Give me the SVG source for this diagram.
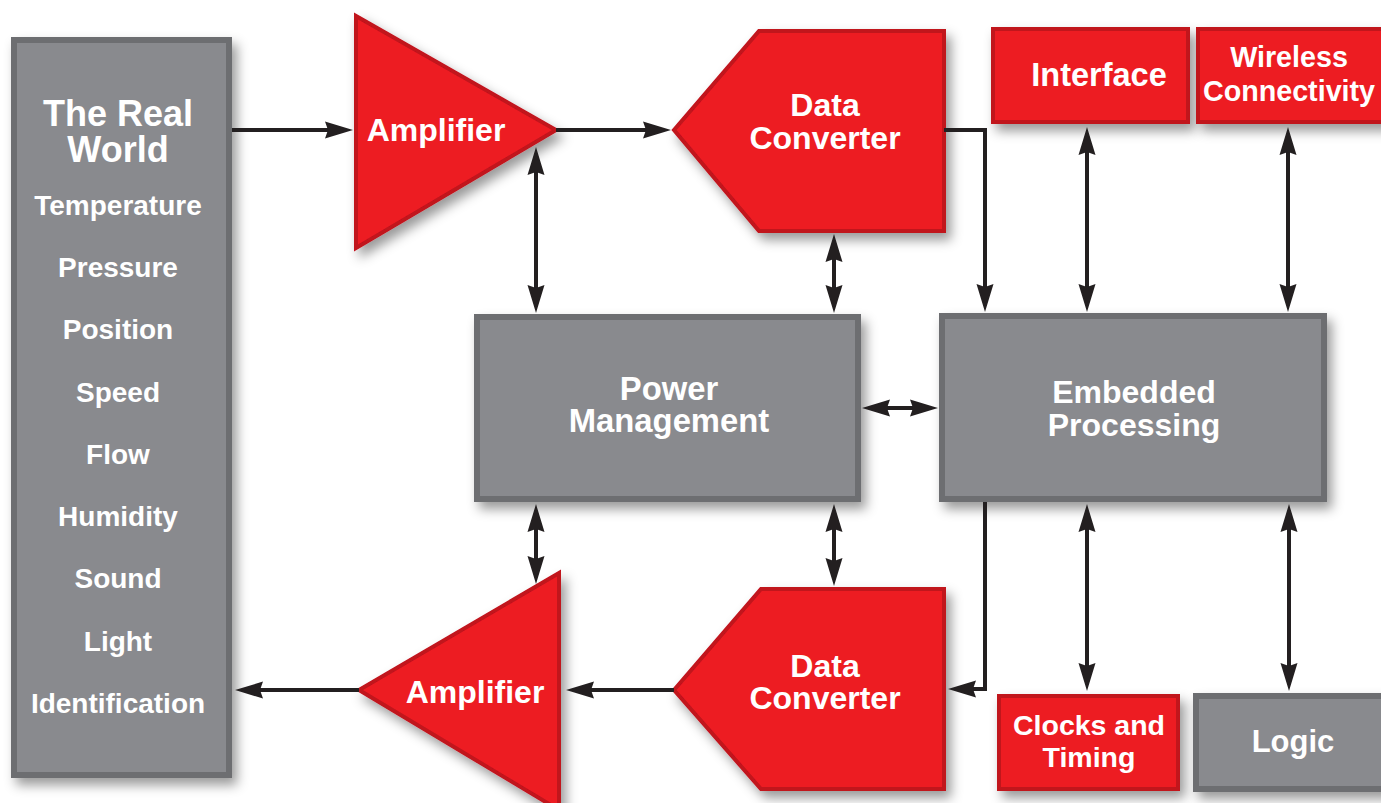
<svg xmlns="http://www.w3.org/2000/svg" width="1381" height="803" viewBox="0 0 1381 803">
<defs>
<filter id="sh" x="-20%" y="-20%" width="150%" height="150%">
<feDropShadow dx="5" dy="7" stdDeviation="6" flood-color="#000" flood-opacity="0.4"/>
</filter>
<marker id="ah" viewBox="0 -9 28 18" markerWidth="28" markerHeight="18" refX="3" refY="0" markerUnits="userSpaceOnUse" orient="auto-start-reverse">
<path d="M28,0 L0,-8.5 L3,0 L0,8.5 Z" fill="#231f20"/>
</marker>
</defs>
<style>
.gray{fill:#898a8e;stroke:#6d6e71;stroke-width:6;filter:url(#sh)}
.red{fill:#ed1c24;stroke:#c1121c;stroke-width:4;filter:url(#sh);stroke-linejoin:miter}
text{font-family:"Liberation Sans",Arial,Helvetica,sans-serif;font-weight:bold;fill:#fff;text-anchor:middle}
.c{fill:none;stroke:#231f20;stroke-width:4}
.s{font-size:28px}
</style>
<rect width="1381" height="803" fill="#fff"/>

<g id="real-world">
<rect class="gray" x="14" y="40" width="215" height="735"/>
<text x="118" y="126" font-size="36">The Real</text>
<text x="118" y="162" font-size="36">World</text>
<text class="s" x="118" y="215">Temperature</text>
<text class="s" x="118" y="277">Pressure</text>
<text class="s" x="118" y="339">Position</text>
<text class="s" x="118" y="402">Speed</text>
<text class="s" x="118" y="464">Flow</text>
<text class="s" x="118" y="526">Humidity</text>
<text class="s" x="118" y="588">Sound</text>
<text class="s" x="118" y="651">Light</text>
<text class="s" x="118" y="713">Identification</text>
</g>

<g id="amplifier-top">
<polygon class="red" points="356,16 356,248 556,130"/>
<text x="436" y="141" font-size="32">Amplifier</text>
</g>

<g id="data-converter-top">
<polygon class="red" points="674,130 759,31 944,31 944,231 759,231"/>
<text x="825" y="116" font-size="32">Data</text>
<text x="825" y="149" font-size="32">Converter</text>
</g>

<g id="interface">
<rect class="red" x="993" y="29" width="195" height="93"/>
<text x="1099" y="86" font-size="32.5">Interface</text>
</g>

<g id="wireless">
<rect class="red" x="1198" y="29" width="200" height="93"/>
<text x="1289" y="67" font-size="28.7">Wireless</text>
<text x="1289" y="101" font-size="28.7">Connectivity</text>
</g>

<g id="power-management">
<rect class="gray" x="477" y="317" width="381" height="182"/>
<text x="669" y="400" font-size="32.8">Power</text>
<text x="669" y="432" font-size="32.8">Management</text>
</g>

<g id="embedded-processing">
<rect class="gray" x="942" y="316" width="382" height="183"/>
<text x="1134" y="403" font-size="32">Embedded</text>
<text x="1134" y="436" font-size="32">Processing</text>
</g>

<g id="amplifier-bottom">
<polygon class="red" points="559,573 559,810 359,690"/>
<text x="475" y="703" font-size="32">Amplifier</text>
</g>

<g id="data-converter-bottom">
<polygon class="red" points="674,690 761,589 944,589 944,789 761,789"/>
<text x="825" y="677" font-size="32">Data</text>
<text x="825" y="709" font-size="32">Converter</text>
</g>

<g id="clocks-timing">
<rect class="red" x="999" y="696" width="179" height="93"/>
<text x="1089" y="735" font-size="28.5">Clocks and</text>
<text x="1089" y="767" font-size="28.5">Timing</text>
</g>

<g id="logic">
<rect class="gray" x="1196" y="696" width="200" height="93"/>
<text x="1293" y="752" font-size="31">Logic</text>
</g>

<g id="connectors">
<line class="c" x1="232" y1="130" x2="328" y2="130" marker-end="url(#ah)"/>
<line class="c" x1="556" y1="130" x2="646" y2="130" marker-end="url(#ah)"/>
<path class="c" d="M944,130 H985 V287" marker-end="url(#ah)"/>
<line class="c" x1="536" y1="172" x2="536" y2="288" marker-start="url(#ah)" marker-end="url(#ah)"/>
<line class="c" x1="834" y1="259" x2="834" y2="288" marker-start="url(#ah)" marker-end="url(#ah)"/>
<line class="c" x1="1087" y1="152" x2="1087" y2="287" marker-start="url(#ah)" marker-end="url(#ah)"/>
<line class="c" x1="1288" y1="152" x2="1288" y2="287" marker-start="url(#ah)" marker-end="url(#ah)"/>
<line class="c" x1="887" y1="408" x2="913" y2="408" marker-start="url(#ah)" marker-end="url(#ah)"/>
<line class="c" x1="536" y1="529" x2="536" y2="559" marker-start="url(#ah)" marker-end="url(#ah)"/>
<line class="c" x1="834" y1="529" x2="834" y2="561" marker-start="url(#ah)" marker-end="url(#ah)"/>
<path class="c" d="M985,502 V689 H973" marker-end="url(#ah)"/>
<line class="c" x1="674" y1="690" x2="591" y2="690" marker-end="url(#ah)"/>
<line class="c" x1="359" y1="690" x2="260" y2="690" marker-end="url(#ah)"/>
<line class="c" x1="1087" y1="529" x2="1087" y2="666" marker-start="url(#ah)" marker-end="url(#ah)"/>
<line class="c" x1="1289" y1="529" x2="1289" y2="666" marker-start="url(#ah)" marker-end="url(#ah)"/>
</g>
</svg>
